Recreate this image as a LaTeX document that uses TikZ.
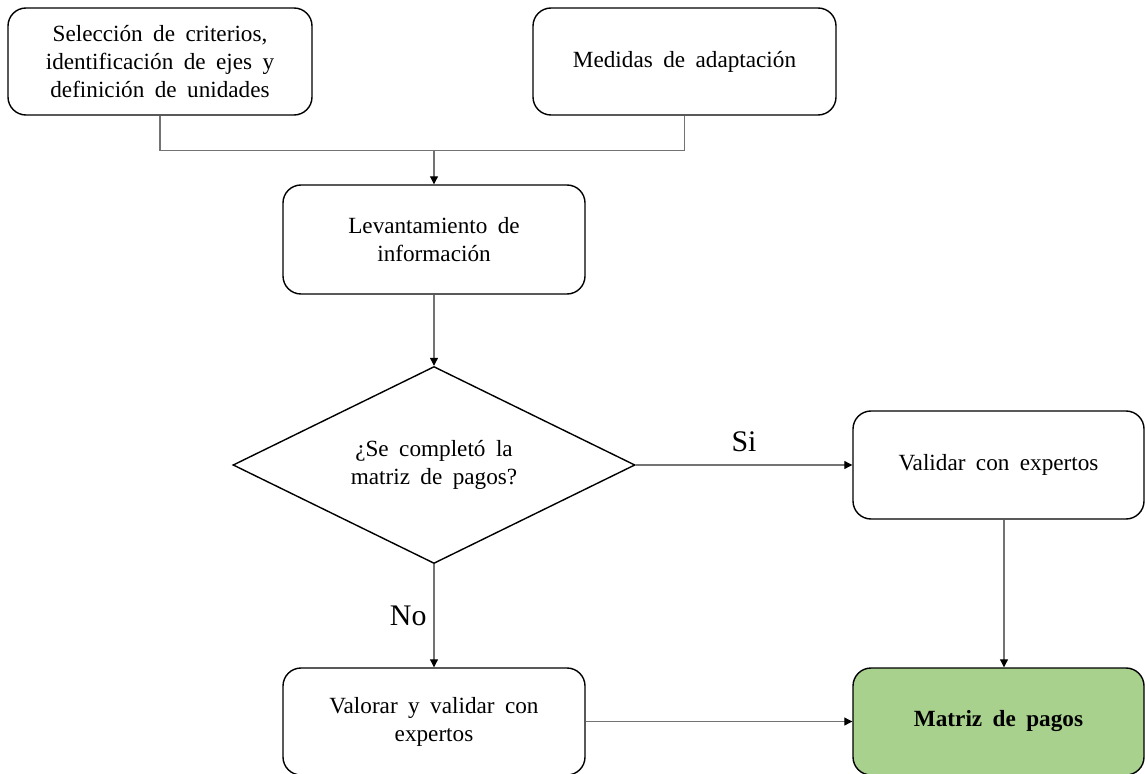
\documentclass[tikz,border=0pt]{standalone}
\usepackage{fontspec}
\setmainfont{Liberation Serif}[WordSpace=1.8]
\usepackage{tikz}
\usetikzlibrary{arrows.meta, positioning, calc, shapes.geometric}
\definecolor{matgreen}{HTML}{A9D18E}

\begin{document}
\begin{tikzpicture}[>={Triangle[length=4.5pt,width=4.5pt,color=black]},
    box/.style={draw, rectangle, rounded corners=0.36cm, line width=0.8pt, align=center,
                inner sep=2pt, font=\fontsize{13.2}{16}\selectfont},
    decision/.style={draw, diamond, aspect=2, line width=0.8pt, align=center, inner sep=0pt,
                minimum width=8.04cm, minimum height=3.94cm, font=\fontsize{13.2}{16}\selectfont},
    link/.style={draw=black!55, line width=0.6pt},
    tag/.style={font=\fontsize{17}{20}\selectfont, inner sep=1pt}]

    \useasboundingbox (0,0) rectangle (22.9,-15.48);

    % Inputs
    \node (sel) [box, minimum width=6.08cm, minimum height=2.14cm] at (3.2,-1.23)
        {Selección de criterios,\\ identificación de ejes y\\ definición de unidades};
    \node (med) [box, minimum width=6.06cm, minimum height=2.14cm] at (13.69,-1.23)
        {Medidas de adaptación};

    % Information and decision
    \node (lev) [box, minimum width=6.04cm, minimum height=2.18cm] at (8.68,-4.79)
        {Levantamiento de\\ información};
    \node (dec) [decision] at (8.68,-9.3) {¿Se completó la\\ matriz de pagos?};

    % Outcomes
    \node (val) [box, minimum width=5.82cm, minimum height=2.16cm] at (19.97,-9.3)
        {Validar con expertos};
    \node (valo) [box, minimum width=6.04cm, minimum height=2.14cm] at (8.68,-14.43)
        {Valorar y validar con\\ expertos};
    \node (mat) [box, fill=matgreen, minimum width=5.82cm, minimum height=2.14cm] at (19.97,-14.43)
        {\textbf{Matriz de pagos}};

    % Connections
    \coordinate (merge) at ($(lev.north)+(0,0.68)$);
    \draw[link] (sel.south) |- (merge) -| (med.south);
    \draw[link, ->] (merge) -- (lev.north);
    \draw[link, ->] (lev.south) -- (dec.north);
    \draw[link, ->] (dec.east) -- (val.west) node[tag, midway, above=6pt] {Si};
    \draw[link, ->] (dec.south) -- (valo.north) node[tag, midway, left=3pt] {No};
    \draw[link, ->] ([xshift=0.11cm]val.south) -- ([xshift=0.11cm]mat.north);
    \draw[link, ->] (valo.east) -- (mat.west);
\end{tikzpicture}
\end{document}
